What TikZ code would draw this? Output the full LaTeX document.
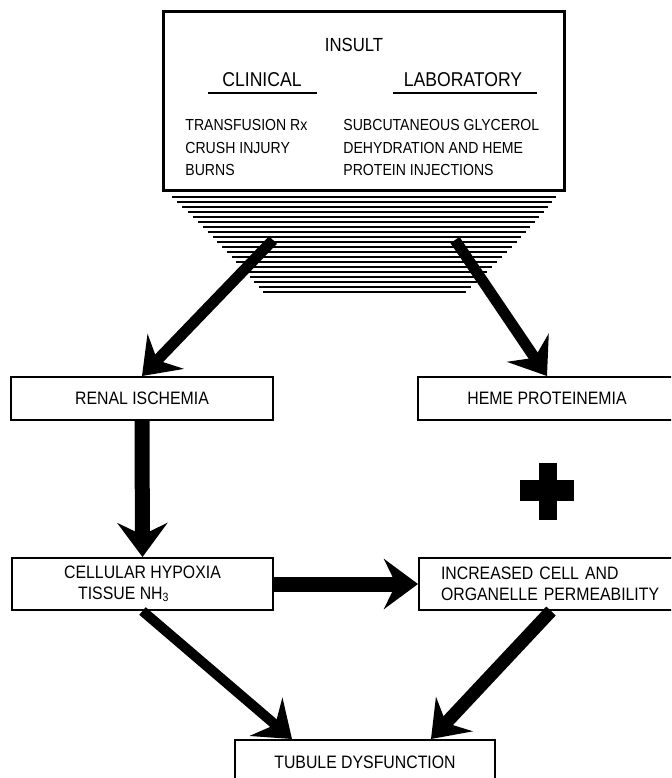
\documentclass[tikz,border=0pt]{standalone}
\usepackage{fontspec}
\setmainfont[FakeStretch=0.88]{Liberation Sans}
\usetikzlibrary{arrows.meta}

\begin{document}
\begin{tikzpicture}[x=0.5pt,y=-0.5pt,
  box/.style={draw, line width=1pt, inner sep=0pt, font=\fontsize{9}{10.5}\selectfont},
  txt/.style={inner sep=0pt, font=\fontsize{8}{11.25}\selectfont},
  head/.style={inner sep=0pt, font=\fontsize{10}{12}\selectfont},
  fat/.style={line width=#1, -{Stealth[length=17pt, width=25pt, inset=6pt]}},
  hatch/.style={line width=1.3pt}]
\useasboundingbox (0,0) rectangle (671,778);
\clip (0,0) rectangle (671,778);

% base of the insult box
\foreach \i in {0,...,19}
  \draw [hatch] ({172+91*(\i/19)*(1.1-0.1*\i/19)},197+5*\i) -- ({556-90*(\i/19)*(0.85+0.15*\i/19)},197+5*\i);

\node [box, line width=1.5pt, minimum width=200.5pt, minimum height=89.5pt] (insult) at (363.5,100.5) {};
\node [head, font=\fontsize{9.5}{12}\selectfont] (title) at (354,45) {INSULT};
\node [head] (clin) at (262,80) {CLINICAL};
\node [head] (lab) at (463,80) {LABORATORY};
\draw [line width=1pt] (208,93) -- (317,93);
\draw [line width=1pt] (393,93) -- (537,93);
\node [txt, anchor=north west, align=left] (clinlist) at (185,119) {TRANSFUSION Rx\\CRUSH INJURY\\BURNS};
\node [txt, anchor=north west, align=left] (lablist) at (343,119) {SUBCUTANEOUS GLYCEROL\\DEHYDRATION AND HEME\\PROTEIN INJECTIONS};

\node [box, minimum width=131pt, minimum height=21.5pt] (renal) at (142,398.5) {RENAL ISCHEMIA};
\node [box, minimum width=129pt, minimum height=21.5pt] (heme) at (547,398.5) {HEME PROTEINEMIA};
\node [box, minimum width=130.5pt, minimum height=26pt, align=left] (hypoxia) at (142.5,584) {CELLULAR HYPOXIA\\\hspace*{7pt}TISSUE NH\textsubscript{3}};
\node [box, anchor=west, minimum height=26pt, text width=110pt, inner xsep=11pt, align=left] (perm) at (418,584) {INCREASED CELL AND\\ORGANELLE PERMEABILITY};
\node [box, minimum width=130pt, minimum height=22pt] (tubule) at (365,762) {TUBULE DYSFUNCTION};

% plus sign
\fill (520,480) rectangle (574,501);
\fill (539,463) rectangle (557,520);

\coordinate (tailL) at (273,240);
\coordinate (tailR) at (455,240);
\draw [fat=5.5pt] (tailL) -- (renal.north);
\draw [fat=5.5pt] (tailR) -- (heme.north);
\draw [fat=7.5pt] (renal.south) -- (hypoxia.north);
\draw [fat=7.5pt] (hypoxia.east) -- (perm.west);
\draw [fat=5pt] (hypoxia.south) -- ([xshift=29pt]tubule.north west);
\draw [fat=6.5pt] (perm.south) -- ([xshift=-32.5pt]tubule.north east);

\end{tikzpicture}
\end{document}
